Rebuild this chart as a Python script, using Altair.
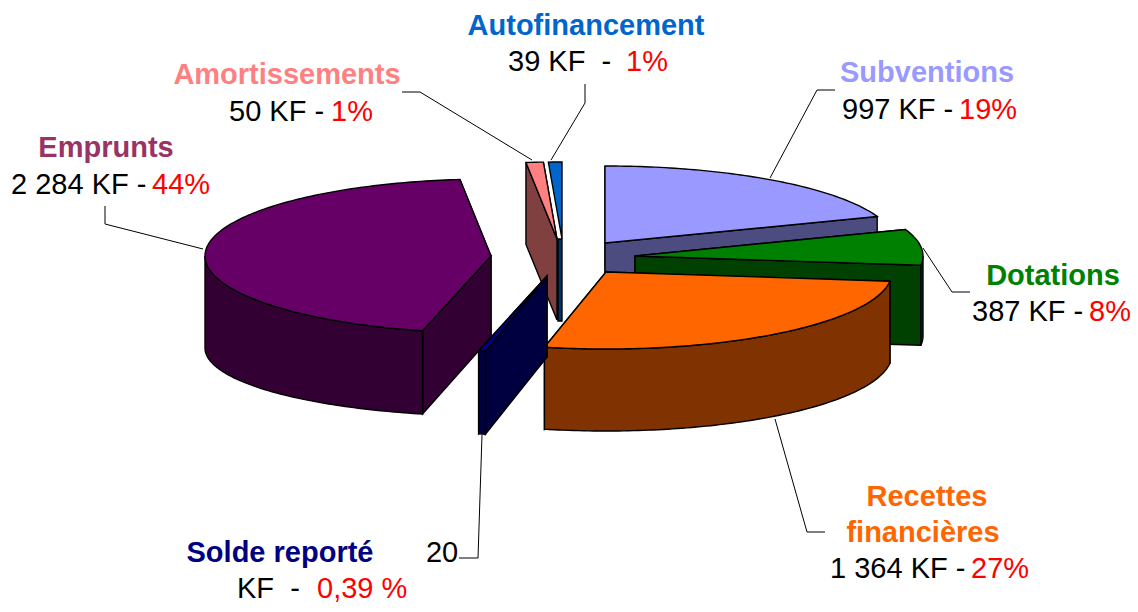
import math
import altair as alt

# --- values ---
names = ["Subventions", "Dotations", "Recettes financières", "Solde reporté", "Emprunts", "Amortissements", "Autofinancement"]
kf = [997, 387, 1364, 20, 2284, 50, 39]
top_colors = ["#9999FF", "#008000", "#FF6600", "#000080", "#660066", "#FF8080", "#0066CC"]
side_colors = ["#4C4C80", "#004000", "#803300", "#000040", "#330033", "#804040", "#003366"]

# --- layout of the exploded pie (chart pixels) ---
centers = [(597, 235), (627, 248), (598, 264), (539, 268), (483, 248), (549, 231), (554, 231)]
radii_x = [290, 288, 286, 286, 286, 286, 286]
RY = 77
APEX_DEPTH = 81
rim_depth = [80, 80, 82, 83, 92, 82, 82]
rim_ry = [77, 77, 77, 77, 68, 77, 77]
W, H = 1122, 596
STRIP_ONLY = {6: 4}  # slice whose radial walls show only as a thin strip


def pt(i, a, bottom=False):
    t = math.radians(a)
    c = centers[i]
    x = c[0] + radii_x[i] * math.sin(t)
    if bottom:
        return [x, c[1] + rim_depth[i] - rim_ry[i] * math.cos(t)]
    return [x, c[1] - RY * math.cos(t)]


def arc(i, a0, a1, bottom=False):
    n = max(2, int(abs(a1 - a0)) + 2)
    return [pt(i, a0 + (a1 - a0) * k / (n - 1), bottom) for k in range(n)]


def poly(coords, fill):
    ring = [list(p) for p in coords]
    ring.append(ring[0])
    return {"type": "Feature", "properties": {"fill": fill},
            "geometry": {"type": "Polygon", "coordinates": [ring]}}


total = sum(kf)
angles = []
acc = 0.0
for v in kf:
    angles.append((acc, acc + v / total * 360))
    acc += v / total * 360

features_by_slice = []
for i, (a0, a1) in enumerate(angles):
    c = centers[i]
    fs = []
    if i in STRIP_ONLY:
        w = STRIP_ONLY[i]
        fs.append(poly([c, [c[0] - w, c[1]], [c[0] - w, c[1] + rim_depth[i]], [c[0], c[1] + rim_depth[i]]], side_colors[i]))
    else:
        for a in sorted((a0, a1), key=lambda q: pt(i, q)[1]):
            p = pt(i, a)
            q = pt(i, a, True)
            fs.append(poly([c, p, q, [c[0], c[1] + APEX_DEPTH]], side_colors[i]))
    lo, hi = max(a0, 90), min(a1, 270)
    if hi > lo:
        fs.append(poly(arc(i, lo, hi) + arc(i, hi, lo, True), side_colors[i]))
    fs.append(poly([c] + arc(i, a0, a1), top_colors[i]))
    features_by_slice.append(fs)

draw_order = [0, 1, 2, 4, 5, 6, 3]
features = [f for i in draw_order for f in features_by_slice[i]]

proj = alt.Projection(type="identity", scale=1, translate=[0, 0])
pie = alt.Chart(alt.Data(values=features)).mark_geoshape(stroke="black", strokeWidth=1.4).encode(
    fill=alt.Fill("properties.fill:N", scale=None)
).project(**proj.to_dict())

# --- leader lines ---
leaders = [
    [[827, 82], [809, 82], [762, 170]],
    [[915, 240], [944, 284], [962, 284]],
    [[767, 411], [799, 524], [817, 524]],
    [[474, 427], [470, 550], [451, 550]],
    [[195, 241], [97, 216], [97, 198]],
    [[524, 152], [412, 84], [394, 84]],
    [[543, 152], [577, 95], [577, 76]],
]
lines = alt.Chart(alt.Data(values=[
    {"type": "Feature", "properties": {}, "geometry": {"type": "LineString", "coordinates": l}} for l in leaders
])).mark_geoshape(filled=False, stroke="black", strokeWidth=1).project(**proj.to_dict())

# --- labels ---
NAVY = "#000080"
NB = "\u00a0"
labels = [
    ("Autofinancement", 578, 18, "center", "#0066CC", "bold"),
    (f"39 KF{NB}{NB}-", 500, 54, "left", "black", "normal"),
    ("1%", 618, 54, "left", "#FF0000", "normal"),
    ("Amortissements", 279, 67, "center", "#FF8080", "bold"),
    ("50 KF -", 221, 104, "left", "black", "normal"),
    ("1%", 323, 104, "left", "#FF0000", "normal"),
    ("Emprunts", 98, 140, "center", "#993366", "bold"),
    ("2 284 KF -", 3, 177, "left", "black", "normal"),
    ("44%", 144, 177, "left", "#FF0000", "normal"),
    ("Subventions", 919, 65, "center", "#9999FF", "bold"),
    ("997 KF -", 834, 102, "left", "black", "normal"),
    ("19%", 951, 102, "left", "#FF0000", "normal"),
    ("Dotations", 1045, 268, "center", "#008000", "bold"),
    ("387 KF -", 964, 304, "left", "black", "normal"),
    ("8%", 1081, 304, "left", "#FF0000", "normal"),
    ("Recettes", 919, 489, "center", "#FF6600", "bold"),
    ("financières", 915, 525, "center", "#FF6600", "bold"),
    ("1 364 KF -", 822, 561, "left", "black", "normal"),
    ("27%", 963, 561, "left", "#FF0000", "normal"),
    ("Solde reporté", 272, 545, "center", NAVY, "bold"),
    ("20", 434, 545, "center", "black", "normal"),
    (f"KF{NB}{NB}-", 229, 581, "left", "black", "normal"),
    ("0,39 %", 309, 581, "left", "#FF0000", "normal"),
]
text_layers = []
for align in ("left", "center"):
    for weight in ("normal", "bold"):
        rows = [{"t": t, "x": x, "y": y, "c": c} for t, x, y, a, c, w in labels if a == align and w == weight]
        if rows:
            text_layers.append(
                alt.Chart(alt.Data(values=rows)).mark_text(
                    font="Liberation Sans", fontSize=29, fontWeight=weight, align=align, baseline="middle"
                ).encode(
                    x=alt.X("x:Q", scale=None, axis=None),
                    y=alt.Y("y:Q", scale=None, axis=None),
                    text="t:N",
                    color=alt.Color("c:N", scale=None),
                )
            )

chart = alt.layer(pie, lines, *text_layers).properties(
    width=W, height=H, padding=0, autosize=alt.AutoSizeParams(type="none"), background="white"
).configure_view(stroke=None)

chart.save("out.html", embed_options={"renderer": "svg", "actions": False})
